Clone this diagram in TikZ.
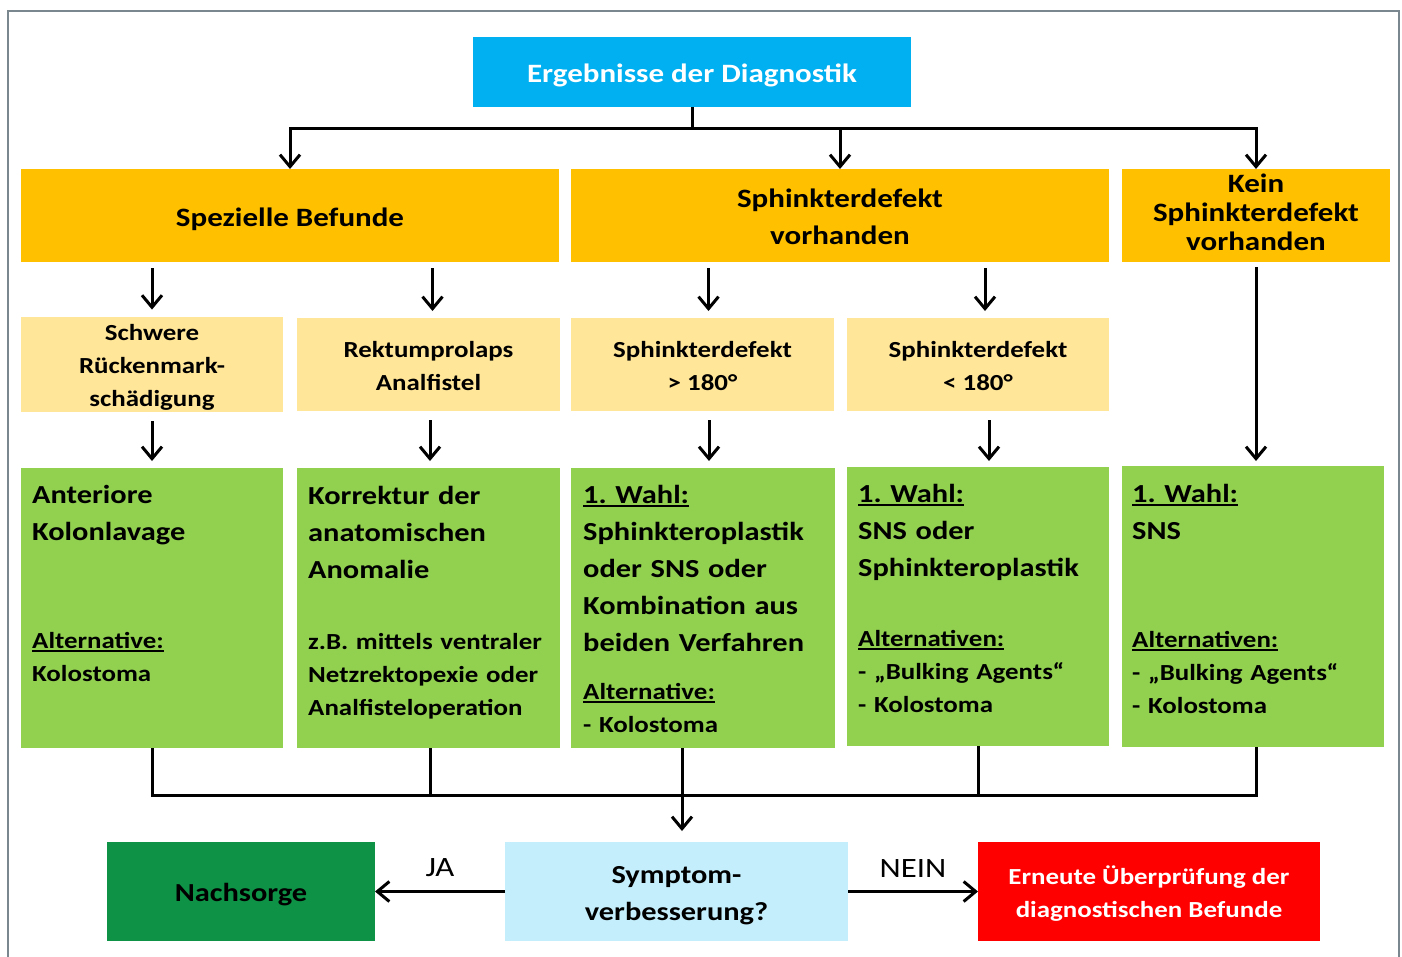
\documentclass[tikz,border=0pt]{standalone}
\usepackage{fontspec}
\setmainfont{Carlito}[FakeStretch=1.17]
\usetikzlibrary{arrows.meta}
\frenchspacing
\definecolor{cyanbox}{HTML}{00B0F0}
\definecolor{orangebox}{HTML}{FFC000}
\definecolor{lightorange}{HTML}{FFE699}
\definecolor{greenbox}{HTML}{92D050}
\definecolor{darkgreen}{RGB}{14,146,70}
\definecolor{lightblue}{HTML}{C4EEFB}
\definecolor{redbox}{HTML}{FF0000}
\definecolor{framegray}{HTML}{7B878E}
\newcommand\myul[1]{\setbox0\hbox{#1}\rlap{\rule[-4pt]{\wd0}{1.8pt}}\box0}
\newcommand\Ts{\rule{0pt}{1.05em}}
\newcommand\Bs{\rule[-0.25em]{0pt}{0pt}}
\newcommand\FTop{\fontsize{26.5}{37}\selectfont\bfseries}
\newcommand\FBig{\fontsize{26}{37}\selectfont\bfseries}
\newcommand\FMid{\fontsize{23}{33}\selectfont\bfseries}
\newcommand\FKein{\fontsize{26.5}{29}\selectfont\bfseries}
\newcommand\FLbl{\fontsize{28}{33}\selectfont}
\begin{document}
\begin{tikzpicture}[x=1pt,y=-1pt,
  box/.style={inner sep=0pt, outer sep=0pt, align=center, text=black},
  ln/.style={line width=3pt, black},
  arr/.style={ln, -{Straight Barb[length=12pt,width=20pt]}},
  gtxt/.style={inner sep=0pt, anchor=base west, text width=260pt, align=left, text=black},
  lbl/.style={inner sep=0pt, font=\FLbl, text=black}]
\useasboundingbox (0,0) rectangle (1402,956);
\draw[framegray, line width=2pt] (7.5,957) -- (7.5,10.5) -- (1398.5,10.5) -- (1398.5,957);

% top
\node[box, fill=cyanbox, minimum width=438pt, minimum height=70pt, text=white, font=\FTop] (top) at (692,72) {\Ts Ergebnisse der Diagnostik\Bs};

% orange row
\node[box, fill=orangebox, minimum width=538pt, minimum height=93pt, font=\FTop] (or1) at (290,215.5) {\Ts Spezielle Befunde\Bs};
\node[box, fill=orangebox, minimum width=538pt, minimum height=93pt, font=\FTop] (or2) at (840,215.5) {\Ts Sphinkterdefekt\\vorhanden\Bs};
\node[box, fill=orangebox, minimum width=268pt, minimum height=93pt, font=\FKein] (or3) at (1256,215.5) {Kein\\Sphinkterdefekt\\vorhanden\Bs};

% light row
\node[box, fill=lightorange, minimum width=262pt, minimum height=93pt, font=\FMid] (lA) at (152,364.5) {\Ts Schwere\\Rückenmark-\\schädigung\Bs};
\node[box, fill=lightorange, minimum width=263pt, minimum height=93pt, font=\FMid] (lB) at (428.5,364.5) {\Ts Rektumprolaps\\Analfistel\Bs};
\node[box, fill=lightorange, minimum width=263pt, minimum height=93pt, font=\FMid] (lC) at (702.5,364.5) {\Ts Sphinkterdefekt\\> 180°\Bs};
\node[box, fill=lightorange, minimum width=262pt, minimum height=93pt, font=\FMid] (lD) at (978,364.5) {\Ts Sphinkterdefekt\\< 180°\Bs};

% green row
\node[box, fill=greenbox, minimum width=262pt, minimum height=280pt] (g1) at (152,608) {};
\node[box, fill=greenbox, minimum width=263pt, minimum height=280pt] (g2) at (428.5,608) {};
\node[box, fill=greenbox, minimum width=264pt, minimum height=280pt] (g3) at (703,608) {};
\node[box, fill=greenbox, minimum width=262pt, minimum height=279pt] (g4) at (978,606.5) {};
\node[box, fill=greenbox, minimum width=262pt, minimum height=281pt] (g5) at (1253,606.5) {};

\node[gtxt, font=\FBig] (t1a) at (32,503) {Anteriore\\Kolonlavage};
\node[gtxt, font=\FMid] (t1b) at (32,648) {\myul{Alternative:}\\Kolostoma};
\node[gtxt, font=\FBig] (t2a) at (308,504) {Korrektur der\\anatomischen\\Anomalie};
\node[gtxt, font=\FMid] (t2b) at (308,649) {z.B. mittels ventraler\\Netzrektopexie oder\\Analfisteloperation};
\node[gtxt, font=\FBig] (t3a) at (583,503) {\myul{1. Wahl:}\\Sphinkteroplastik\\oder SNS oder\\Kombination aus\\beiden Verfahren};
\node[gtxt, font=\FMid] (t3b) at (583,699) {\myul{Alternative:}\\- Kolostoma};
\node[gtxt, font=\FBig] (t4a) at (858,502) {\myul{1. Wahl:}\\SNS oder\\Sphinkteroplastik};
\node[gtxt, font=\FMid] (t4b) at (858,646) {\myul{Alternativen:}\\- „Bulking Agents“\\- Kolostoma};
\node[gtxt, font=\FBig] (t5a) at (1132,502) {\myul{1. Wahl:}\\SNS};
\node[gtxt, font=\FMid] (t5b) at (1132,647) {\myul{Alternativen:}\\- „Bulking Agents“\\- Kolostoma};

% bottom row
\node[box, fill=darkgreen, minimum width=268pt, minimum height=99pt, font=\FBig] (nach) at (241,891.5) {\Ts Nachsorge\Bs};
\node[box, fill=lightblue, minimum width=343pt, minimum height=99pt, font=\FBig] (sym) at (676.5,891.5) {\Ts Symptom-\\verbesserung?\Bs};
\node[box, fill=redbox, minimum width=342pt, minimum height=99pt, text=white, font=\FMid] (red) at (1149,891.5) {\Ts Erneute Überprüfung der\\diagnostischen Befunde\Bs};

% connectors top
\coordinate (split) at (692,128);
\draw[ln] (top.south) -- (split);
\draw[arr] (split) -| (or1.north);
\draw[arr] (split) -| (or2.north);
\draw[arr] (split) -| (or3.north);

% orange -> light
\draw[arr, shorten <=6pt, shorten >=7pt] (lA.north |- or1.south) -- (lA.north);
\draw[arr, shorten <=6pt, shorten >=7pt] ([xshift=4pt]lB.north |- or1.south) -- ([xshift=4pt]lB.north);
\draw[arr, shorten <=6pt, shorten >=7pt] ([xshift=6pt]lC.north |- or2.south) -- ([xshift=6pt]lC.north);
\draw[arr, shorten <=6pt, shorten >=7pt] ([xshift=7pt]lD.north |- or2.south) -- ([xshift=7pt]lD.north);

% light -> green
\draw[arr, shorten <=9pt, shorten >=7pt] (lA.south) -- (g1.north);
\draw[arr, shorten <=9pt, shorten >=7pt] ([xshift=1.5pt]lB.south) -- ([xshift=1.5pt]g2.north);
\draw[arr, shorten <=9pt, shorten >=7pt] ([xshift=6pt]g3.north |- lC.south) -- ([xshift=6pt]g3.north);
\draw[arr, shorten <=9pt, shorten >=6pt] ([xshift=11pt]g4.north |- lD.south) -- ([xshift=11pt]g4.north);
\draw[arr, shorten <=5pt, shorten >=5pt] (or3.south) -- (or3.south |- g5.north);

% merge
\coordinate (mj) at (682,795);
\draw[ln] (g1.south) -- (g1.south |- mj) -- ([xshift=3pt]g5.south |- mj) -- ([xshift=3pt]g5.south);
\draw[ln] ([xshift=1.5pt]g2.south) -- ([xshift=1.5pt]g2.south |- mj);
\draw[ln] ([xshift=-21pt]g3.south) -- (mj);
\draw[ln] (g4.south) -- (g4.south |- mj);
\draw[arr, shorten >=11pt] (mj) -- (mj |- sym.north);

% decision
\draw[arr] (sym.west) -- (nach.east) node[lbl, midway, above=13pt] (ja) {JA};
\draw[arr] (sym.east) -- (red.west) node[lbl, midway, above=13pt] (nein) {NEIN};
\end{tikzpicture}
\end{document}
